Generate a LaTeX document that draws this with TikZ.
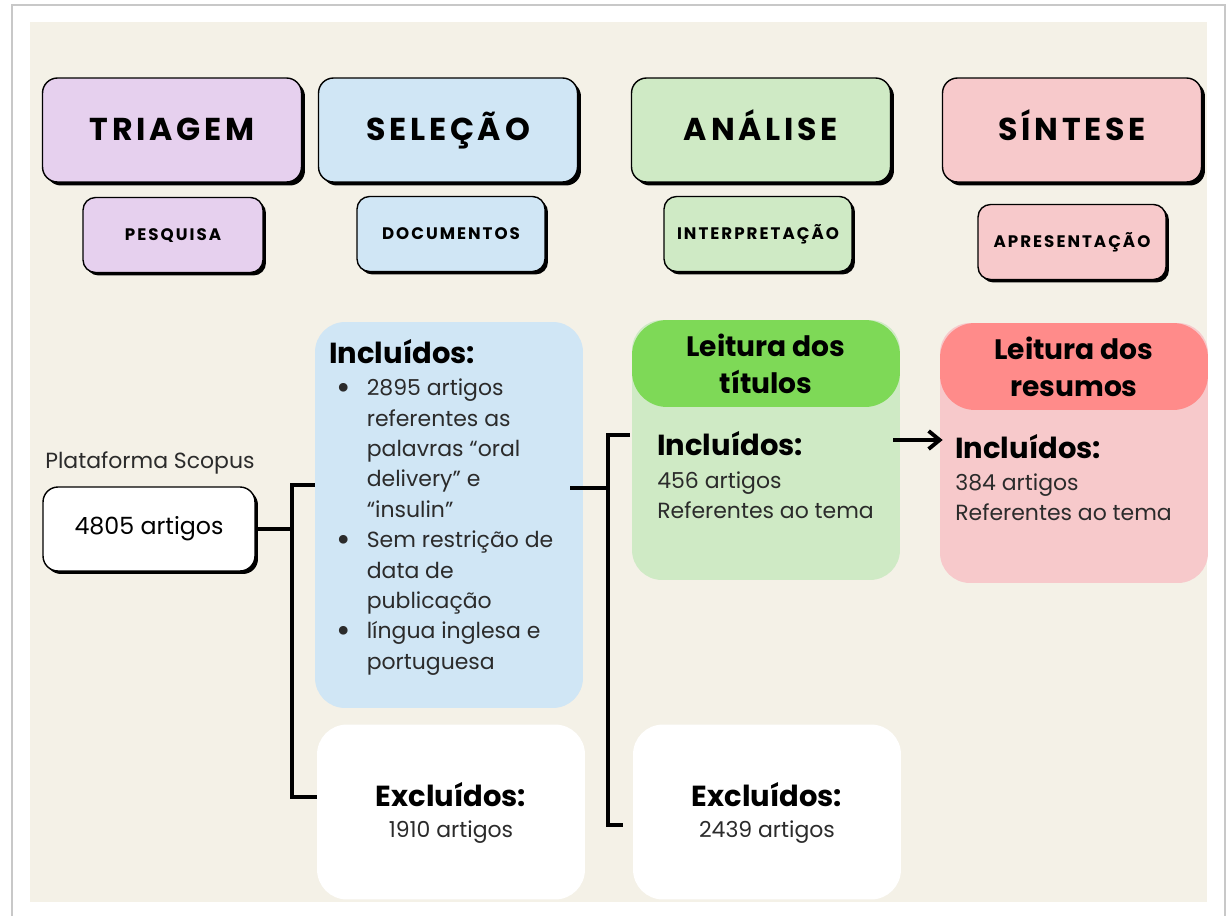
\documentclass[tikz,border=0pt]{standalone}
\usepackage{fontspec}
\setmainfont{Poppins}
\newfontfamily\spacedfont[LetterSpace=12]{Poppins}
\usetikzlibrary{arrows.meta,positioning,calc,shadows}
\definecolor{cPaper}{HTML}{F4F1E7}
\definecolor{cFrame}{HTML}{C8C8C8}
\definecolor{cPurple}{HTML}{E6D0EE}
\definecolor{cBlue}{HTML}{D0E6F5}
\definecolor{cGreen}{HTML}{CFEAC5}
\definecolor{cGreenD}{HTML}{7ED957}
\definecolor{cPink}{HTML}{F7C9CB}
\definecolor{cPinkD}{HTML}{FF8B8A}
\definecolor{cText}{HTML}{2B2B2B}
\newcommand{\bulletdot}{\raisebox{-0.18em}{\scalebox{1.6}{\textbullet}}}
\tikzset{
  stage/.style={draw=black,line width=0.8pt,fill=#1,rounded corners=0.3cm,
              minimum width=5.18cm,minimum height=2.08cm,text height=12pt,text depth=0pt,
              font=\spacedfont\bfseries\fontsize{18}{20}\selectfont,
              drop shadow={shadow xshift=0.07cm,shadow yshift=-0.07cm,fill=black,opacity=1}},
  substage/.style={draw=black,line width=0.8pt,fill=#1,rounded corners=0.25cm,
              minimum width=3.76cm,minimum height=1.5cm,text height=6.8pt,text depth=0pt,
              font=\spacedfont\bfseries\fontsize{9.5}{11}\selectfont,
              drop shadow={shadow xshift=0.06cm,shadow yshift=-0.06cm,fill=black,opacity=1}},
  panel/.style={fill=#1,rounded corners=0.6cm,minimum width=5.36cm,inner sep=0pt},
  capbox/.style={fill=#1,rounded corners=0.7cm,minimum width=5.36cm,minimum height=1.74cm,
              align=center,font=\bfseries\fontsize{16}{21}\selectfont},
  ttl/.style={anchor=base west,inner sep=0pt,font=\bfseries\fontsize{16.5}{18}\selectfont},
  txt/.style={anchor=base west,inner sep=0pt,text=cText,align=left,
              font=\fontsize{12.5}{17.3}\selectfont},
  link/.style={line width=2.2pt,black},
}
\begin{document}
\begin{tikzpicture}[x=0.02cm,y=-0.02cm]
  \useasboundingbox (0,0) rectangle (1230,916);
  % page and paper
  \fill[white] (0,0) rectangle (1230,916);
  \draw[cFrame,line width=1pt] (12,916) -- (12,5) -- (1225,5) -- (1225,916);
  \fill[cPaper] (30,22) rectangle (1207,902);

  % stages
  \node[stage=cPurple] (triagem) at (172,130) {TRIAGEM};
  \node[stage=cBlue]   (selecao) at (448,130) {SELEÇÃO};
  \node[stage=cGreen]  (analise) at (761,130) {ANÁLISE};
  \node[stage=cPink]   (sintese) at (1072,130) {SÍNTESE};
  \node[substage=cPurple,minimum width=3.6cm] (pesquisa) at (173,235) {PESQUISA};
  \node[substage=cBlue]  (documentos) at (451,234) {DOCUMENTOS};
  \node[substage=cGreen] (interpretacao) at (758,234) {INTERPRETAÇÃO};
  \node[substage=cPink]  (apresentacao) at (1072,242) {APRESENTAÇÃO};

  % source
  \node[txt] (scopus) at (45,468) {Plataforma Scopus};
  \node[draw=black,line width=0.8pt,fill=white,rounded corners=0.3cm,
        minimum width=4.24cm,minimum height=1.68cm,font=\fontsize{13.5}{16}\selectfont,
        drop shadow={shadow xshift=0.06cm,shadow yshift=-0.06cm,fill=black,opacity=1}]
        (src) at (149,529) {4805 artigos};

  % selection panels
  \node[panel=cBlue,minimum height=7.72cm] (incl1) at (449,515) {};
  \node[ttl] (incl1t) at (329,363) {Incluídos:};
  \node[txt,anchor=north west] (incl1l) at (336,374) {%
    \begin{tabular}{@{}l@{\hspace{0.32cm}}l@{}}
      \bulletdot & 2895 artigos\\
                 & referentes as\\
                 & palavras “oral\\
                 & delivery” e\\
                 & “insulin”\\
      \bulletdot & Sem restrição de\\
                 & data de\\
                 & publicação\\
      \bulletdot & língua inglesa e\\
                 & portuguesa
    \end{tabular}};
  \node[panel=white,minimum height=3.5cm] (excl1) at (451,812) {};
  \node[ttl,anchor=base] (excl1t) at (451,806) {Excluídos:};
  \node[txt,anchor=base] (excl1n) at (451,837) {1910 artigos};

  % analysis panels
  \node[panel=cGreen,minimum height=5.2cm] (titulos) at (766,450) {};
  \node[capbox=cGreenD] (titulosh) at (766,363.5) {Leitura dos\\títulos};
  \node[ttl] (incl2t) at (657,455) {Incluídos:};
  \node[txt] (incl2n) at (657,488) {456 artigos};
  \node[txt] (incl2r) at (657,518) {Referentes ao tema};
  \node[panel=white,minimum height=3.5cm] (excl2) at (767,812) {};
  \node[ttl,anchor=base] (excl2t) at (767,806) {Excluídos:};
  \node[txt,anchor=base] (excl2n) at (767,837) {2439 artigos};

  % synthesis panel
  \node[panel=cPink,minimum height=5.2cm] (resumos) at (1074,453) {};
  \node[capbox=cPinkD] (resumosh) at (1074,366.5) {Leitura dos\\resumos};
  \node[ttl] (incl3t) at (955,458) {Incluídos:};
  \node[txt] (incl3n) at (955,490) {384 artigos};
  \node[txt] (incl3r) at (955,520) {Referentes ao tema};

  % connectors
  \coordinate (b1) at (292,529);
  \coordinate (b2) at (608,488);
  \draw[link] (src.east) -- (b1);
  \draw[link] (incl1.west |- 0,485) -| (b1) |- (excl1.west |- 0,797);
  \draw[link] ([xshift=-0.26cm]incl1.east |- b2) -- (b2);
  \draw[link] ([xshift=-0.04cm]titulos.west |- 0,435) -| (b2) |- ([xshift=-0.2cm]excl2.west |- 0,825);
  \draw[link,-{Straight Barb[length=2.2mm,width=3.6mm]}]
    ([xshift=-0.14cm]titulos.east |- 0,440) -- ([xshift=0.06cm]resumos.west |- 0,440);
\end{tikzpicture}
\end{document}
